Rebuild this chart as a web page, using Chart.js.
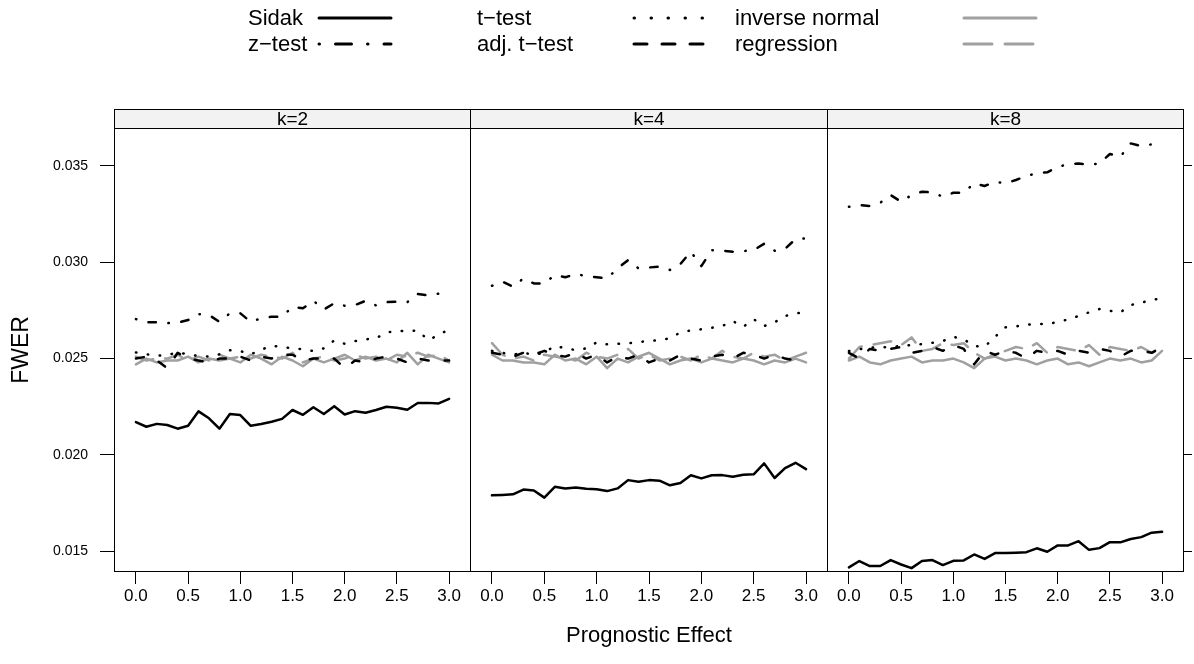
<!DOCTYPE html>
<html>
<head>
<meta charset="utf-8">
<script src="https://cdn.jsdelivr.net/npm/chart.js@4/dist/chart.umd.min.js"></script>
<style>
  body { margin: 0; background: #fff; }
  #wrap { position: relative; width: 1194px; height: 664px; font-family: "Liberation Sans", Arial, sans-serif; }
  #wrap canvas { position: absolute; left: 0; top: 0; }
  .lab { position: absolute; font-size: 22px; line-height: 24px; color: #000; white-space: nowrap; }
  .key { position: absolute; }
</style>
</head>
<body>
<div id="wrap">
  <canvas id="p1" width="1194" height="664"></canvas>
  <canvas id="p2" width="1194" height="664"></canvas>
  <canvas id="p3" width="1194" height="664"></canvas>
  <div id="legend"></div>
</div>
<script>
// x: prognostic effect, 0.0 .. 3.0
const effect = [0.0, 0.1, 0.2, 0.3, 0.4, 0.5, 0.6, 0.7, 0.8, 0.9, 1.0, 1.1, 1.2, 1.3, 1.4, 1.5,
  1.6, 1.7, 1.8, 1.9, 2.0, 2.1, 2.2, 2.3, 2.4, 2.5, 2.6, 2.7, 2.8, 2.9, 3.0];
const xTicks = [0.0, 0.5, 1.0, 1.5, 2.0, 2.5, 3.0];
const yTicks = [0.015, 0.020, 0.025, 0.030, 0.035];
const panels = ["k=2", "k=4", "k=8"];

// k=2
const sidak_k2 = [0.02170, 0.02146, 0.02161, 0.02155, 0.02136, 0.02151, 0.02226, 0.02190, 0.02136, 0.02212, 0.02207,
  0.02151, 0.02160, 0.02172, 0.02187, 0.02233, 0.02208, 0.02247, 0.02212, 0.02253, 0.02210, 0.02227, 0.02219,
  0.02233, 0.02250, 0.02245, 0.02234, 0.02269, 0.02270, 0.02267, 0.02291];
const ztest_k2 = [0.02705, 0.02688, 0.02688, 0.02684, 0.02686, 0.02700, 0.02731, 0.02726, 0.02691, 0.02735, 0.02735,
  0.02691, 0.02709, 0.02717, 0.02717, 0.02769, 0.02761, 0.02800, 0.02755, 0.02787, 0.02774, 0.02778, 0.02800,
  0.02776, 0.02793, 0.02795, 0.02793, 0.02835, 0.02828, 0.02837, 0.02866];
const ttest_k2 = [0.02532, 0.02522, 0.02515, 0.02518, 0.02532, 0.02522, 0.02513, 0.02511, 0.02522, 0.02543, 0.02539,
  0.02522, 0.02546, 0.02567, 0.02560, 0.02553, 0.02549, 0.02539, 0.02553, 0.02594, 0.02577, 0.02591, 0.02600,
  0.02605, 0.02636, 0.02643, 0.02643, 0.02646, 0.02596, 0.02622, 0.02653];
const adjt_k2 = [0.02500, 0.02510, 0.02490, 0.02450, 0.02530, 0.02500, 0.02490, 0.02480, 0.02500, 0.02500, 0.02510,
  0.02490, 0.02510, 0.02500, 0.02520, 0.02520, 0.02490, 0.02500, 0.02500, 0.02500, 0.02450, 0.02490, 0.02480,
  0.02500, 0.02510, 0.02500, 0.02480, 0.02500, 0.02490, 0.02490, 0.02490];
const invnorm_k2 = [0.02470, 0.02500, 0.02480, 0.02490, 0.02490, 0.02510, 0.02480, 0.02500, 0.02490, 0.02500, 0.02480,
  0.02520, 0.02500, 0.02470, 0.02510, 0.02490, 0.02460, 0.02500, 0.02480, 0.02500, 0.02520, 0.02490, 0.02510,
  0.02490, 0.02500, 0.02480, 0.02530, 0.02470, 0.02520, 0.02500, 0.02480];
const regr_k2 = [0.02510, 0.02490, 0.02500, 0.02500, 0.02520, 0.02490, 0.02510, 0.02490, 0.02520, 0.02500, 0.02510,
  0.02500, 0.02520, 0.02510, 0.02500, 0.02530, 0.02480, 0.02500, 0.02510, 0.02490, 0.02500, 0.02520, 0.02500,
  0.02510, 0.02490, 0.02520, 0.02510, 0.02530, 0.02510, 0.02520, 0.02490];

// k=4
const sidak_k4 = [0.01790, 0.01792, 0.01795, 0.01820, 0.01815, 0.01778, 0.01834, 0.01826, 0.01831, 0.01824, 0.01822,
  0.01812, 0.01826, 0.01869, 0.01860, 0.01869, 0.01866, 0.01842, 0.01854, 0.01894, 0.01878, 0.01894, 0.01895,
  0.01886, 0.01897, 0.01899, 0.01956, 0.01880, 0.01931, 0.01959, 0.01926];
const ztest_k4 = [0.02878, 0.02899, 0.02873, 0.02916, 0.02890, 0.02890, 0.02934, 0.02922, 0.02939, 0.02928, 0.02922,
  0.02916, 0.02968, 0.03011, 0.02968, 0.02973, 0.02977, 0.02960, 0.02991, 0.03055, 0.02980, 0.03063, 0.03060,
  0.03055, 0.03058, 0.03063, 0.03096, 0.03060, 0.03070, 0.03120, 0.03124];
const ttest_k4 = [0.02540, 0.02530, 0.02520, 0.02530, 0.02520, 0.02530, 0.02567, 0.02553, 0.02544, 0.02553, 0.02584,
  0.02574, 0.02577, 0.02579, 0.02586, 0.02591, 0.02596, 0.02605, 0.02636, 0.02646, 0.02652, 0.02660, 0.02669,
  0.02695, 0.02665, 0.02704, 0.02669, 0.02688, 0.02721, 0.02735, 0.02740];
const adjt_k4 = [0.02530, 0.02520, 0.02510, 0.02530, 0.02520, 0.02540, 0.02520, 0.02510, 0.02530, 0.02500, 0.02520,
  0.02480, 0.02510, 0.02500, 0.02520, 0.02480, 0.02500, 0.02490, 0.02520, 0.02500, 0.02490, 0.02510, 0.02520,
  0.02500, 0.02530, 0.02520, 0.02500, 0.02520, 0.02500, 0.02490, 0.02490];
const invnorm_k4 = [0.02520, 0.02490, 0.02490, 0.02480, 0.02480, 0.02470, 0.02520, 0.02490, 0.02500, 0.02470, 0.02510,
  0.02450, 0.02500, 0.02480, 0.02510, 0.02530, 0.02500, 0.02470, 0.02490, 0.02500, 0.02480, 0.02500, 0.02490,
  0.02480, 0.02500, 0.02490, 0.02470, 0.02490, 0.02480, 0.02500, 0.02480];
const regr_k4 = [0.02580, 0.02520, 0.02500, 0.02510, 0.02490, 0.02520, 0.02510, 0.02500, 0.02490, 0.02530, 0.02510,
  0.02500, 0.02520, 0.02550, 0.02500, 0.02520, 0.02490, 0.02500, 0.02510, 0.02490, 0.02520, 0.02500, 0.02540,
  0.02510, 0.02500, 0.02530, 0.02510, 0.02520, 0.02490, 0.02510, 0.02530];

// k=8
const sidak_k8 = [0.01416, 0.01449, 0.01423, 0.01423, 0.01454, 0.01431, 0.01412, 0.01449, 0.01454, 0.01428, 0.01450,
  0.01452, 0.01483, 0.01460, 0.01490, 0.01490, 0.01492, 0.01495, 0.01515, 0.01497, 0.01530, 0.01530, 0.01552,
  0.01507, 0.01516, 0.01547, 0.01546, 0.01563, 0.01573, 0.01596, 0.01601];
const ztest_k8 = [0.03288, 0.03297, 0.03292, 0.03309, 0.03349, 0.03314, 0.03349, 0.03366, 0.03363, 0.03340, 0.03361,
  0.03361, 0.03410, 0.03396, 0.03418, 0.03410, 0.03427, 0.03448, 0.03462, 0.03467, 0.03496, 0.03508, 0.03513,
  0.03506, 0.03513, 0.03562, 0.03548, 0.03617, 0.03603, 0.03612, 0.03626];
const ttest_k8 = [0.02539, 0.02548, 0.02558, 0.02558, 0.02561, 0.02565, 0.02570, 0.02575, 0.02582, 0.02591, 0.02613,
  0.02600, 0.02565, 0.02561, 0.02613, 0.02662, 0.02667, 0.02676, 0.02679, 0.02679, 0.02690, 0.02703, 0.02721,
  0.02740, 0.02757, 0.02748, 0.02740, 0.02778, 0.02790, 0.02804, 0.02814];
const adjt_k8 = [0.02530, 0.02500, 0.02550, 0.02540, 0.02550, 0.02560, 0.02530, 0.02540, 0.02560, 0.02540, 0.02570,
  0.02550, 0.02470, 0.02540, 0.02520, 0.02540, 0.02530, 0.02500, 0.02540, 0.02530, 0.02540, 0.02520, 0.02540,
  0.02530, 0.02550, 0.02540, 0.02510, 0.02540, 0.02540, 0.02530, 0.02560];
const invnorm_k8 = [0.02490, 0.02510, 0.02480, 0.02470, 0.02490, 0.02500, 0.02510, 0.02480, 0.02490, 0.02490, 0.02500,
  0.02480, 0.02450, 0.02500, 0.02510, 0.02490, 0.02500, 0.02490, 0.02470, 0.02490, 0.02500, 0.02470, 0.02480,
  0.02460, 0.02480, 0.02500, 0.02490, 0.02500, 0.02480, 0.02490, 0.02540];
const regr_k8 = [0.02500, 0.02560, 0.02570, 0.02580, 0.02590, 0.02570, 0.02610, 0.02540, 0.02550, 0.02580, 0.02570,
  0.02580, 0.02530, 0.02500, 0.02520, 0.02540, 0.02560, 0.02550, 0.02580, 0.02530, 0.02560, 0.02550, 0.02540,
  0.02570, 0.02520, 0.02560, 0.02550, 0.02540, 0.02560, 0.02530, 0.02550];

const GRAY = "#a0a0a0";
// line styles (lattice lty: 1 solid, 4 dot-dash, 3 dotted, 2 dashed, 5 long dash)
const styles = [
  { label: "Sidak", color: "#000", dash: [], keyDash: [] },
  { label: "z\u2212test", color: "#000", dash: [0.5, 12.5, 7.5, 12.5], keyDash: [0.5, 16, 16, 16] },
  { label: "t\u2212test", color: "#000", dash: [0.5, 11.5], keyDash: [0.5, 16.5] },
  { label: "adj. t\u2212test", color: "#000", dash: [8, 16], keyDash: [13, 15] },
  { label: "inverse normal", color: GRAY, dash: [], keyDash: [] },
  { label: "regression", color: GRAY, dash: [18, 12], keyDash: [28, 13] },
];
const panelSeries = [
  [sidak_k2, ztest_k2, ttest_k2, adjt_k2, invnorm_k2, regr_k2],
  [sidak_k4, ztest_k4, ttest_k4, adjt_k4, invnorm_k4, regr_k4],
  [sidak_k8, ztest_k8, ttest_k8, adjt_k8, invnorm_k8, regr_k8],
];

const FONT = "'Liberation Sans', Arial, sans-serif";
const Y_MIN = 0.01392, Y_MAX = 0.03697;
const X_MIN = -0.21, X_MAX = 3.21;

// strip + panel frame
const panelFrame = {
  id: "panelFrame",
  afterDraw(chart) {
    const { ctx, chartArea: a } = chart;
    const stripH = 19;
    ctx.save();
    ctx.fillStyle = "#f2f2f2";
    ctx.fillRect(a.left, a.top - stripH, a.right - a.left, stripH);
    ctx.strokeStyle = "#000";
    ctx.lineWidth = 1;
    ctx.strokeRect(a.left + 0.5, a.top - stripH + 0.5, a.right - a.left - 1, stripH);
    ctx.strokeRect(a.left + 0.5, a.top + 0.5, a.right - a.left - 1, a.bottom - a.top - 1);
    ctx.fillStyle = "#000";
    ctx.font = "19px " + FONT;
    ctx.textAlign = "center";
    ctx.textBaseline = "middle";
    ctx.fillText(chart.options.plugins.panelFrame.text, (a.left + a.right) / 2, a.top - stripH / 2 + 1);
    ctx.restore();
  },
};

const drawPanel = (id, idx) => {
  // panels share their border line: 114-470, 470-827, 827-1184
  const padLeft = [0, 470, 827][idx];
  const padRight = [1194 - 471, 1194 - 828, 0][idx];
  const datasets = styles.map((s, j) => ({
    label: s.label,
    data: effect.map((x, i) => ({ x: x, y: panelSeries[idx][j][i] })),
    borderColor: s.color,
    borderWidth: 2.5,
    borderDash: s.dash,
    borderCapStyle: "round",
    borderJoinStyle: "round",
    pointRadius: 0,
    tension: 0,
    fill: false,
    yAxisID: "y",
  }));
  const scales = {
    x: {
      type: "linear",
      min: X_MIN,
      max: X_MAX,
      afterBuildTicks: (s) => { s.ticks = xTicks.map((v) => ({ value: v })); },
      afterFit: (s) => { s.height = 664 - 572; },
      grid: { display: true, drawOnChartArea: false, drawTicks: true, tickLength: 12, color: "#000", tickColor: "#000" },
      border: { display: false },
      ticks: {
        color: "#000",
        padding: 2,
        maxRotation: 0,
        autoSkip: false,
        font: { size: 17, family: FONT },
        callback: (v) => v.toFixed(1),
      },
      title: {
        display: idx === 1,
        text: "Prognostic Effect",
        color: "#000",
        padding: { top: 10, bottom: 15 },
        font: { size: 22, family: FONT },
      },
    },
    y: {
      type: "linear",
      display: idx === 0,
      min: Y_MIN,
      max: Y_MAX,
      afterBuildTicks: (s) => { s.ticks = yTicks.map((v) => ({ value: v })); },
      grid: { display: true, drawOnChartArea: false, drawTicks: true, tickLength: 14, color: "#000", tickColor: "#000" },
      border: { display: false },
      ticks: {
        color: "#000",
        padding: 12,
        font: { size: 14, family: FONT },
        callback: (v) => v.toFixed(3),
      },
      title: {
        display: true,
        text: "FWER",
        color: "#000",
        padding: { top: 8, bottom: 0 },
        font: { size: 23, family: FONT },
      },
    },
  };
  if (idx === 0) {
    scales.y.afterFit = (s) => { s.width = 114; };
  }
  if (idx === 2) {
    scales.y2 = {
      type: "linear",
      position: "right",
      min: Y_MIN,
      max: Y_MAX,
      afterBuildTicks: (s) => { s.ticks = yTicks.map((v) => ({ value: v })); },
      afterFit: (s) => { s.width = 10; },
      grid: { display: true, drawOnChartArea: false, drawTicks: true, tickLength: 8, color: "#000", tickColor: "#000" },
      border: { display: false },
      ticks: { display: false },
    };
  }
  const ctx = document.getElementById(id).getContext("2d");
  return new Chart(ctx, {
    type: "line",
    data: { datasets: datasets },
    options: {
      responsive: false,
      animation: false,
      layout: { padding: { left: padLeft, right: padRight, top: 128, bottom: 0 } },
      plugins: {
        legend: { display: false },
        tooltip: { enabled: false },
        panelFrame: { text: panels[idx] },
      },
      scales: scales,
    },
    plugins: [panelFrame],
  });
};

drawPanel("p1", 0);
drawPanel("p2", 1);
drawPanel("p3", 2);

// key at the top: 3 columns x 2 rows, text then line sample
const keyCols = [[248, 317], [477, 632], [735, 962]];
const keyRows = [18, 44];
const legend = document.getElementById("legend");
styles.forEach((s, j) => {
  const col = Math.floor(j / 2), row = j % 2;
  const [tx, lx] = keyCols[col];
  const cy = keyRows[row];
  const t = document.createElement("div");
  t.className = "lab";
  t.textContent = s.label;
  t.style.left = tx + "px";
  t.style.top = (cy - 12) + "px";
  legend.appendChild(t);
  const svgNS = "http://www.w3.org/2000/svg";
  const svg = document.createElementNS(svgNS, "svg");
  svg.setAttribute("class", "key");
  svg.setAttribute("width", "80");
  svg.setAttribute("height", "10");
  svg.style.left = lx + "px";
  svg.style.top = (cy - 5) + "px";
  const ln = document.createElementNS(svgNS, "line");
  ln.setAttribute("x1", "2");
  ln.setAttribute("x2", "74");
  ln.setAttribute("y1", "5");
  ln.setAttribute("y2", "5");
  ln.setAttribute("stroke", s.color);
  ln.setAttribute("stroke-width", "3");
  ln.setAttribute("stroke-linecap", "round");
  if (s.keyDash.length) ln.setAttribute("stroke-dasharray", s.keyDash.join(" "));
  svg.appendChild(ln);
  legend.appendChild(svg);
});
</script>
</body>
</html>
